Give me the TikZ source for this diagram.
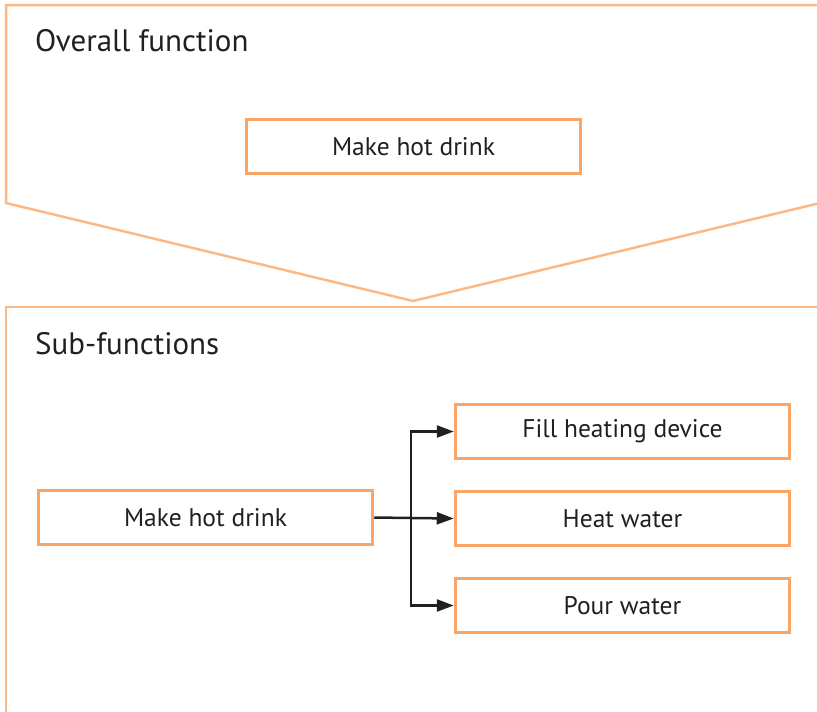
\documentclass[tikz,border=0pt]{standalone}
\usepackage{fontspec}
\setmainfont{PT Sans}
\usetikzlibrary{arrows.meta}
\definecolor{boxorange}{HTML}{F8A566}
\definecolor{frameorange}{HTML}{FCB985}
\definecolor{txt}{HTML}{231F20}
\tikzset{
  fn/.style={draw=boxorange, line width=3.5pt, minimum width=334pt, minimum height=54pt, inner sep=0pt, font=\fontsize{25.5}{30}\selectfont, text=txt},
  frame/.style={draw=frameorange, line width=2.5pt},
  conn/.style={draw=txt, line width=2.5pt},
  arr/.style={conn, -{Triangle[length=17pt,width=12pt]}},
  title/.style={anchor=base west, font=\fontsize{31}{36}\selectfont, text=txt, inner sep=0pt}
}
\begin{document}
\begin{tikzpicture}[x=1pt,y=-1pt]
\useasboundingbox (0,0) rectangle (817,712);
% frames
\draw[frame] (820,5) -- (6,5) -- (6,203) -- (413,301) -- (820,203);
\draw[frame] (820,307) -- (6,307) -- (6,715);
\node[title] (t1) at (35,51) {Overall function};
\node[title] (t2) at (35,354) {Sub-functions};
% boxes
\node[fn] (top) at (413.5,146.5) {Make hot drink};
\node[fn] (main) at (205.5,517.5) {Make hot drink};
\node[fn] (f1) at (622.5,431.5) {Fill heating device};
\node[fn] (f2) at (622.5,518.5) {Heat water};
\node[fn] (f3) at (622.5,605.5) {Pour water};
\coordinate (j) at (411,518);
\draw[conn] (main.east) -- (j);
\draw[arr] (j) |- (f1.west);
\draw[arr] (j) -- (f2.west);
\draw[arr] (j) |- (f3.west);
\end{tikzpicture}
\end{document}
